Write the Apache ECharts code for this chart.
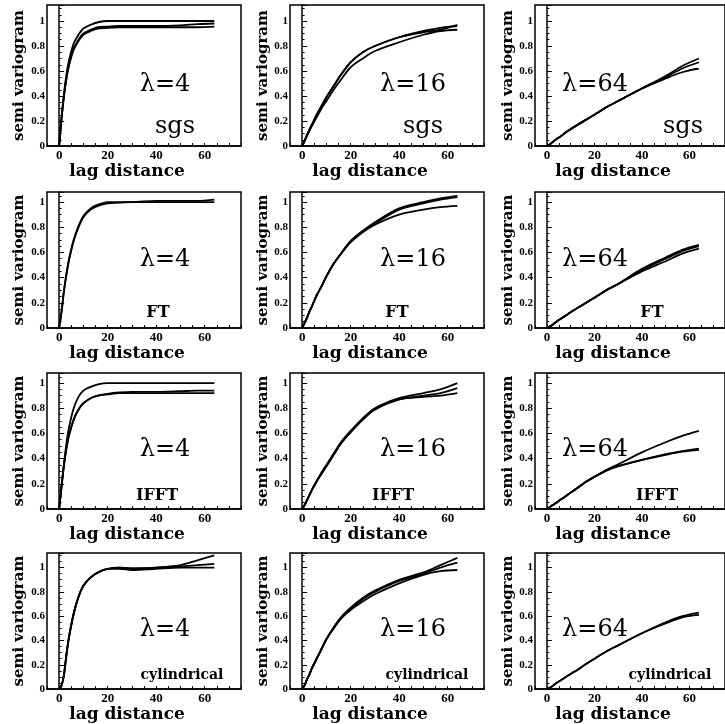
<!DOCTYPE html>
<html>
<head>
<meta charset="utf-8">
<script src="https://cdn.jsdelivr.net/npm/echarts@6/dist/echarts.min.js"></script>
<style>
  html, body { margin: 0; padding: 0; background: #fff; }
  #chart { width: 725px; height: 724px; }
</style>
</head>
<body>
<div id="chart"></div>
<script>
// lag values shared by every curve
const lags = [0, 1, 2, 3, 4, 6, 8, 10, 13, 16, 20, 25, 30, 40, 50, 57, 64]

// rows = simulation method, columns = correlation length
const methods = ['sgs', 'FT', 'IFFT', 'cylindrical']
const lambdas = [4, 16, 64]
const xTickLabels = [0, 20, 40, 60]
const yTickLabels = [0, 0.2, 0.4, 0.6, 0.8, 1]

// semivariogram curves (several realisations per panel)
const sgs4 = [
  [0, .23, .42, .57, .68, .82, .89, .94, .97, .99, 1.0, 1.0, 1.0, 1.0, 1.0, 1.0, 1.0],
  [0, .22, .40, .54, .64, .77, .84, .89, .92, .94, .945, .95, .95, .95, .95, .95, .955],
  [0, .22, .40, .54, .64, .78, .85, .90, .93, .95, .955, .96, .96, .96, .965, .975, .98]
]
const sgs16 = [
  [0, .04, .09, .13, .17, .25, .32, .39, .48, .57, .67, .75, .80, .87, .92, .945, .96],
  [0, .04, .09, .13, .17, .25, .32, .39, .48, .57, .67, .75, .80, .87, .91, .93, .97],
  [0, .04, .08, .12, .16, .23, .30, .36, .45, .53, .63, .70, .76, .83, .89, .92, .93]
]
const sgs64 = [
  [0, .01, .025, .04, .055, .08, .11, .135, .17, .205, .25, .31, .36, .46, .56, .64, .70],
  [0, .01, .025, .04, .055, .08, .11, .135, .17, .205, .25, .31, .36, .46, .55, .62, .67],
  [0, .01, .025, .04, .055, .08, .11, .135, .17, .205, .25, .31, .36, .46, .54, .59, .62]
]
const ft4 = [
  [0, .13, .30, .43, .54, .70, .81, .89, .95, .98, 1.0, 1.0, 1.0, 1.01, 1.01, 1.01, 1.02],
  [0, .13, .29, .42, .53, .69, .80, .88, .94, .97, .99, .995, 1.0, 1.0, 1.0, 1.0, 1.0]
]
const ft16 = [
  [0, .04, .08, .13, .17, .26, .33, .41, .51, .59, .69, .77, .84, .95, 1.0, 1.03, 1.05],
  [0, .04, .08, .13, .17, .26, .33, .41, .51, .59, .69, .77, .83, .94, .99, 1.02, 1.04],
  [0, .04, .08, .13, .17, .26, .33, .41, .51, .59, .68, .76, .82, .90, .94, .96, .97]
]
const ft64 = [
  [0, .01, .02, .035, .05, .075, .10, .125, .16, .195, .24, .30, .35, .47, .56, .62, .66],
  [0, .01, .02, .035, .05, .075, .10, .125, .16, .195, .24, .30, .35, .46, .55, .61, .65],
  [0, .01, .02, .035, .05, .075, .10, .125, .16, .195, .24, .30, .35, .45, .53, .59, .63]
]
const ifft4 = [
  [0, .18, .36, .52, .64, .80, .89, .94, .97, .99, 1.0, 1.0, 1.0, 1.0, 1.0, 1.0, 1.0],
  [0, .18, .35, .48, .58, .71, .79, .84, .88, .90, .91, .92, .92, .92, .92, .92, .92],
  [0, .18, .35, .48, .58, .71, .79, .84, .88, .90, .915, .925, .93, .93, .935, .94, .94]
]
const ifft16 = [
  [0, .03, .07, .11, .15, .22, .29, .35, .44, .53, .62, .72, .80, .88, .92, .95, 1.0],
  [0, .03, .07, .11, .15, .22, .28, .34, .43, .52, .61, .71, .79, .87, .90, .92, .96],
  [0, .03, .07, .11, .15, .22, .28, .34, .43, .52, .61, .71, .79, .87, .89, .90, .92]
]
const ifft64 = [
  [0, .012, .025, .038, .05, .077, .103, .13, .168, .21, .255, .31, .355, .45, .53, .58, .62],
  [0, .012, .025, .038, .05, .077, .103, .13, .168, .21, .255, .305, .34, .39, .43, .455, .47],
  [0, .012, .025, .038, .05, .077, .103, .13, .168, .21, .255, .305, .34, .39, .435, .46, .48]
]
const cyl4 = [
  [0, .03, .12, .28, .42, .62, .76, .85, .92, .96, .99, 1.0, .99, 1.0, 1.01, 1.02, 1.03],
  [0, .03, .12, .28, .42, .62, .76, .85, .92, .96, .99, .99, .98, .99, 1.0, 1.0, 1.0],
  [0, .03, .12, .28, .42, .62, .76, .85, .92, .96, .99, 1.0, .995, 1.0, 1.02, 1.06, 1.1]
]
const cyl16 = [
  [0, .03, .08, .12, .17, .25, .33, .41, .51, .59, .67, .75, .81, .90, .96, 1.02, 1.08],
  [0, .03, .08, .12, .17, .25, .33, .41, .50, .58, .66, .74, .80, .89, .95, 1.0, 1.04],
  [0, .03, .08, .12, .17, .25, .33, .41, .50, .58, .65, .72, .78, .87, .94, .97, .98]
]
const cyl64 = [
  [0, .01, .02, .035, .05, .075, .10, .125, .16, .20, .25, .31, .36, .46, .55, .60, .63],
  [0, .01, .02, .035, .05, .075, .10, .125, .16, .20, .25, .31, .36, .46, .54, .59, .61]
]

const panels = [
  [sgs4, sgs16, sgs64],
  [ft4, ft16, ft64],
  [ifft4, ifft16, ifft64],
  [cyl4, cyl16, cyl64]
]

// layout (pixels)
const colLeft = [47, 290, 535]
const gridW = 194
const rowTop = [5, 192, 373, 553]
const rowH = [141, 136, 136, 137]
const rowYMax = [1.128, 1.08, 1.08, 1.12]
const yNameGap = [20, 13, 18]
const lambdaPos = { dx: [118, 123, 60], dy: [80, 68, 77, 77] }
const methodPos = [
  { dx: [128, 133, 148], dy: 122, font: '24px "DejaVu Serif"' },
  { dx: [111, 107, 117], dy: 121, font: 'bold 16px "DejaVu Serif"' },
  { dx: [110, 103, 122], dy: 123, font: 'bold 16px "DejaVu Serif"' },
  { dx: [135, 137, 135], dy: 122, font: 'bold 14px "DejaVu Serif"' }
]

const chart = echarts.init(document.getElementById('chart'))
const grid = []
const xAxis = []
const yAxis = []
const series = []
const graphic = []
const black = '#000'

panels.forEach((row, r) => {
  row.forEach((curves, c) => {
    const idx = grid.length
    grid.push({
      left: colLeft[c],
      top: rowTop[r],
      width: gridW,
      height: rowH[r],
      show: true,
      borderColor: black,
      borderWidth: 1.5
    })
    xAxis.push({
      gridIndex: idx,
      type: 'value',
      min: -5,
      max: 75,
      interval: 5,
      axisLine: { lineStyle: { color: black, width: 1.5 } },
      axisTick: { inside: true, length: 3, lineStyle: { color: black } },
      axisLabel: {
        customValues: xTickLabels,
        margin: 3,
        color: black,
        fontFamily: 'Liberation Serif',
        fontWeight: 'bold',
        fontSize: 13
      },
      splitLine: { show: false },
      name: 'lag distance',
      nameLocation: 'middle',
      nameGap: 13,
      nameTextStyle: {
        color: black,
        fontFamily: 'DejaVu Serif',
        fontWeight: 'bold',
        fontSize: 17,
        padding: [0, 34, 0, 0]
      }
    })
    yAxis.push({
      gridIndex: idx,
      type: 'value',
      min: 0,
      max: rowYMax[r],
      interval: 0.2,
      axisLine: { lineStyle: { color: black, width: 1.5 } },
      axisTick: { inside: true, length: 5, lineStyle: { color: black } },
      minorTick: { show: true, splitNumber: 4, length: 2.5, lineStyle: { color: black } },
      axisLabel: {
        customValues: yTickLabels,
        margin: 2,
        color: black,
        fontFamily: 'Liberation Serif',
        fontWeight: 'bold',
        fontSize: 11,
        formatter: (v) => (v === 0 || v === 1 ? String(v) : v.toFixed(1))
      },
      splitLine: { show: false },
      name: 'semi variogram',
      nameLocation: 'middle',
      nameGap: yNameGap[c],
      nameTextStyle: {
        color: black,
        fontFamily: 'DejaVu Serif',
        fontWeight: 'bold',
        fontSize: 15
      }
    })
    curves.forEach((vals) => {
      series.push({
        type: 'line',
        xAxisIndex: idx,
        yAxisIndex: idx,
        data: lags.map((x, i) => [x, vals[i]]),
        showSymbol: false,
        smooth: 0.3,
        silent: true,
        lineStyle: { color: black, width: 1.8 }
      })
    })
    graphic.push({
      type: 'text',
      x: colLeft[c] + lambdaPos.dx[c],
      y: rowTop[r] + lambdaPos.dy[r],
      style: {
        text: 'λ=' + lambdas[c],
        font: '24px "DejaVu Serif"',
        fill: black,
        align: 'center',
        verticalAlign: 'middle'
      }
    })
    graphic.push({
      type: 'text',
      x: colLeft[c] + methodPos[r].dx[c],
      y: rowTop[r] + methodPos[r].dy,
      style: {
        text: methods[r],
        font: methodPos[r].font,
        fill: black,
        align: 'center',
        verticalAlign: 'middle'
      }
    })
  })
})

chart.setOption({
  backgroundColor: '#fff',
  animation: false,
  grid,
  xAxis,
  yAxis,
  series,
  graphic
})
</script>
</body>
</html>
